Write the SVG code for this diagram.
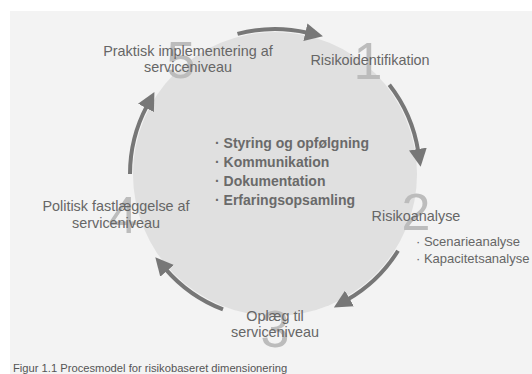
<svg xmlns="http://www.w3.org/2000/svg" width="532" height="374" viewBox="0 0 532 374">
  <style>
    .lbl { font-family: "Liberation Sans", Arial, sans-serif; font-size: 14.4px; fill: #666666; text-anchor: middle; }
    .sub { font-family: "Liberation Sans", Arial, sans-serif; font-size: 13px; fill: #666666; }
    .ctr { font-family: "Liberation Sans", Arial, sans-serif; font-size: 14px; font-weight: bold; fill: #6a6a6a; }
    .num { font-family: "Liberation Sans", Arial, sans-serif; font-size: 52px; fill: #bcbcbc; text-anchor: middle; }
    .cap { font-family: "Liberation Sans", Arial, sans-serif; font-size: 11.2px; fill: #555555; }
    .arc { fill: none; stroke: #777777; stroke-width: 4; marker-end: url(#head); }
  </style>
  <defs>
    <marker id="head" markerUnits="userSpaceOnUse" markerWidth="18" markerHeight="18" refX="2" refY="8" orient="auto" viewBox="0 0 16 16">
      <path d="M0,0 L16,8 L0,16 Z" fill="#777777"/>
    </marker>
  </defs>
  <rect x="0" y="0" width="532" height="374" fill="#ffffff"/>
  <rect x="10" y="11" width="522" height="363" fill="#f3f3f3"/>
  <g id="hub">
    <circle cx="275" cy="174" r="142" fill="#e0e0e0"/>
    <text class="ctr" x="215" y="148">· Styring og opfølgning</text>
    <text class="ctr" x="215" y="167">· Kommunikation</text>
    <text class="ctr" x="215" y="186">· Dokumentation</text>
    <text class="ctr" x="215" y="205">· Erfaringsopsamling</text>
  </g>
  <g id="connectors">
    <path class="arc" d="M237.5,33.9 A145,145 0 0 1 307.6,32.7"/>
    <path class="arc" d="M389.3,84.7 A145,145 0 0 1 418.2,151.3"/>
    <path class="arc" d="M398,250.8 A145,145 0 0 1 347.5,299.6"/>
    <path class="arc" d="M223,309.4 A145,145 0 0 1 165.6,269.1"/>
    <path class="arc" d="M130,174 A145,145 0 0 1 147,105.9"/>
  </g>
  <g id="step1">
    <text class="num" x="368" y="79">1</text>
    <text class="lbl" x="370" y="65">Risikoidentifikation</text>
  </g>
  <g id="step2">
    <text class="num" x="416" y="230">2</text>
    <text class="lbl" x="416" y="221">Risikoanalyse</text>
    <text class="sub" x="416" y="246">· Scenarieanalyse</text>
    <text class="sub" x="416" y="263">· Kapacitetsanalyse</text>
  </g>
  <g id="step3">
    <text class="num" x="275" y="347">3</text>
    <text class="lbl" x="275" y="321">Oplæg til</text>
    <text class="lbl" x="275" y="337">serviceniveau</text>
  </g>
  <g id="step4">
    <text class="num" x="123" y="233">4</text>
    <text class="lbl" x="116" y="211">Politisk fastlæggelse af</text>
    <text class="lbl" x="116" y="228">serviceniveau</text>
  </g>
  <g id="step5">
    <text class="num" x="181" y="78">5</text>
    <text class="lbl" x="188" y="56">Praktisk implementering af</text>
    <text class="lbl" x="188" y="72">serviceniveau</text>
  </g>
  <text class="cap" x="13" y="372">Figur 1.1 Procesmodel for risikobaseret dimensionering</text>
</svg>
